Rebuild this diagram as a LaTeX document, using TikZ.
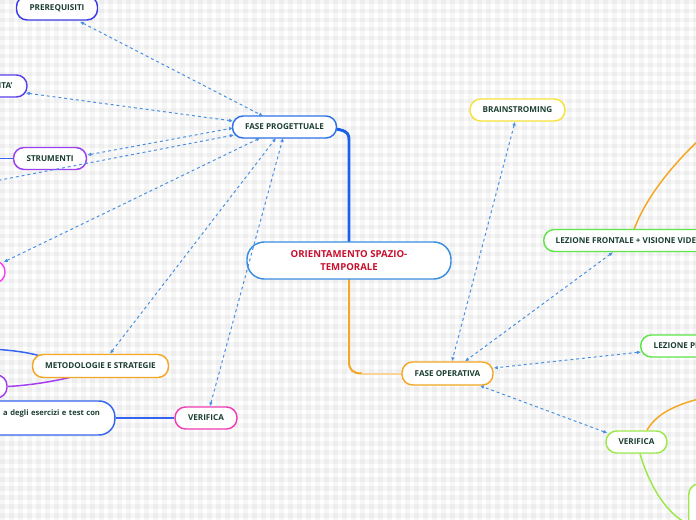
\documentclass[tikz,border=0pt]{standalone}
\usepackage{fontspec}
\setmainfont{Open Sans}
\usetikzlibrary{calc,arrows.meta}
\definecolor{txt}{HTML}{1B3F30}
\definecolor{cPre}{HTML}{3C3CE6}
\definecolor{cIta}{HTML}{5B3FE8}
\definecolor{cStr}{HTML}{9B3FF0}
\definecolor{cMag}{HTML}{FF3CF0}
\definecolor{cPur}{HTML}{A43CF0}
\definecolor{cOr}{HTML}{F5A623}
\definecolor{cOrL}{HTML}{FAD39A}
\definecolor{cEser}{HTML}{3565F0}
\definecolor{cVerL}{HTML}{F03CB4}
\definecolor{cFp}{HTML}{2F72E8}
\definecolor{cOri}{HTML}{3A8EE0}
\definecolor{cBrain}{HTML}{F5E33A}
\definecolor{cLez}{HTML}{5EE64A}
\definecolor{cVerR}{HTML}{9BE84A}
\definecolor{cDash}{HTML}{4A90E2}
\definecolor{cRed}{HTML}{C8102E}
\definecolor{cThick}{HTML}{1A5FE8}
\pgfdeclarelayer{bg}
\pgfdeclarelayer{paper}
\pgfsetlayers{paper,bg,main}
\begin{document}
\begin{tikzpicture}[x=0.75pt,y=-0.75pt,
  box/.style={draw, line width=1.1pt, fill=white, rounded corners=8pt,
    minimum height=16.5pt, inner sep=0pt,
    font=\fontsize{6.1}{8}\selectfont\bfseries, text=txt},
  dl/.style={draw=cDash, line width=0.75pt, dash pattern=on 2.2pt off 2.2pt,
    {Latex[length=3pt,width=2.8pt]}-{Latex[length=3pt,width=2.8pt]}},
  conn/.style={line width=1.1pt},
]
\useasboundingbox (0,0) rectangle (696,520);
\clip (0,0) rectangle (696,520);
\begin{pgfonlayer}{paper}
\fill[white] (0,0) rectangle (696,520);
\foreach \i in {0,9,...,700} {
  \fill[black, fill opacity=0.035] (\i,0) rectangle (\i+4.5,520);
}
\foreach \j in {0,9,...,520} {
  \fill[black, fill opacity=0.035] (0,\j) rectangle (696,\j+4.5);
}
\end{pgfonlayer}

% nodes
\node[box, draw=cPre, minimum width=60.75pt, minimum height=18pt] (prereq) at (57,8) {PREREQUISITI};
\node[box, draw=cIta, text width=62pt, align=right, inner xsep=11pt] (ita) at (-29,86) {ITA'};
\node[box, draw=cStr, minimum width=54.75pt] (strum) at (50,158.5) {STRUMENTI};
\node[box, draw=cMag, minimum width=67.5pt] (mag) at (-40,272) {};
\node[box, draw=cPur, minimum width=70.5pt, minimum height=17.25pt] (pur) at (-40,386.5) {};
\node[box, draw=cOr, minimum width=102pt, minimum height=17.25pt] (metod) at (100.5,366) {METODOLOGIE E STRATEGIE};
\node[box, draw=cEser, rounded corners=12pt, text width=105pt, align=right, inner xsep=11.2pt, minimum height=25.5pt,
  font=\fontsize{5.7}{8}\selectfont\bfseries] (eser) at (30,418) {a degli esercizi e test con\\\mbox{}};
\node[box, draw=cVerL, minimum width=46.5pt] (verL) at (206,418) {VERIFICA};
\node[box, draw=cFp, minimum width=78pt] (fp) at (284.5,127) {FASE PROGETTUALE};
\node[box, draw=cOri, rounded corners=13pt, minimum width=153pt, minimum height=27.75pt,
  font=\fontsize{7.2}{9.75}\selectfont\bfseries, text=cRed, align=center] (orient) at (349,260.5) {ORIENTAMENTO SPAZIO-\\TEMPORALE};
\node[box, draw=cOr, minimum width=68.25pt, minimum height=17.25pt] (fo) at (447.5,373.5) {FASE OPERATIVA};
\node[box, draw=cBrain, minimum width=71.25pt] (brain) at (517.5,110) {BRAINSTROMING};
\node[box, draw=cLez, anchor=west, inner xsep=9pt] (lez1) at (543,240.5) {LEZIONE FRONTALE + VISIONE VIDEO};
\node[box, draw=cLez, anchor=west, inner xsep=9.75pt] (lez2) at (640,346) {LEZIONE PRATICA};
\node[box, draw=cVerR, minimum width=45.75pt] (verR) at (636.5,442) {VERIFICA};
\node[box, draw=cVerR, anchor=north west, minimum width=60pt, minimum height=60pt] (brN) at (688,483) {};

\coordinate (offL) at (-5,181);
\coordinate (offS) at (-10,158.5);
\coordinate (offM) at (-10,349);
\coordinate (offR1) at (712,128);
\coordinate (offR2) at (712,396);
\coordinate (foBend) at (362,373.5);

\begin{pgfonlayer}{bg}
% solid connectors
\draw[line width=2.2pt, cThick] (orient.center) -- (349,140) .. controls (349,130) and (346,127) .. (fp.center);
\draw[line width=1.5pt, cOr] (orient.center) -- (349,362) .. controls (349,370) and (353,373.5) .. (foBend);
\draw[line width=1.5pt, cOrL] (foBend) -- (fo.center);
\draw[conn, cEser] (offS) -- (strum.center);
\draw[conn, cEser] (offM) .. controls (10,350) and (28,352) .. ($(metod.west)+(12,-9)$);
\draw[conn, cPur] (pur.east) .. controls (35,385) and (60,380) .. ($(metod.south)+(-26,-2)$);
\draw[conn, cEser] (eser.east) -- (verL.west);
\draw[conn, cOr] ($(lez1.west)+(91,-11)$) .. controls (645,200) and (670,165) .. (offR1);
\draw[conn, cOr] ($(verR.north)+(10.5,0)$) .. controls (655,416) and (672,404) .. (offR2);
\draw[conn, cVerR] ($(verR.south)+(3.5,0)$) .. controls (650,488) and (668,515) .. (brN.west);
\end{pgfonlayer}

% dashed connectors
\draw[dl] ($(prereq.south)+(23,1)$) -- ($(fp)+(-21.5,-11)$);
\draw[dl] ($(ita.east)+(-2,7)$) -- ($(fp)+(-51.5,-6)$);
\draw[dl] ($(strum.east)+(0,-3.5)$) -- ($(fp)+(-51.5,1)$);
\draw[dl] (offL) -- ($(fp)+(-50.5,8)$);
\draw[dl] ($(mag.east)+(-2,-10)$) -- ($(fp)+(-24.5,11)$);
\draw[dl] ($(metod.north)+(9.5,0)$) -- ($(fp)+(-8.5,11)$);
\draw[dl] ($(verL.north)+(4,0)$) -- ($(fp)+(-1.5,11)$);
\draw[dl] ($(brain.south)+(-2.5,0)$) -- ($(fo.north)+(4.5,0)$);
\draw[dl] ($(lez1.south west)+(70,0)$) -- ($(fo.north)+(17.5,0)$);
\draw[dl] ($(lez2.west)+(1,6)$) -- ($(fo.east)+(0,-5.5)$);
\draw[dl] ($(verR.west)+(2,-9)$) -- ($(fo.south)+(32.5,0)$);
\end{tikzpicture}
\end{document}
